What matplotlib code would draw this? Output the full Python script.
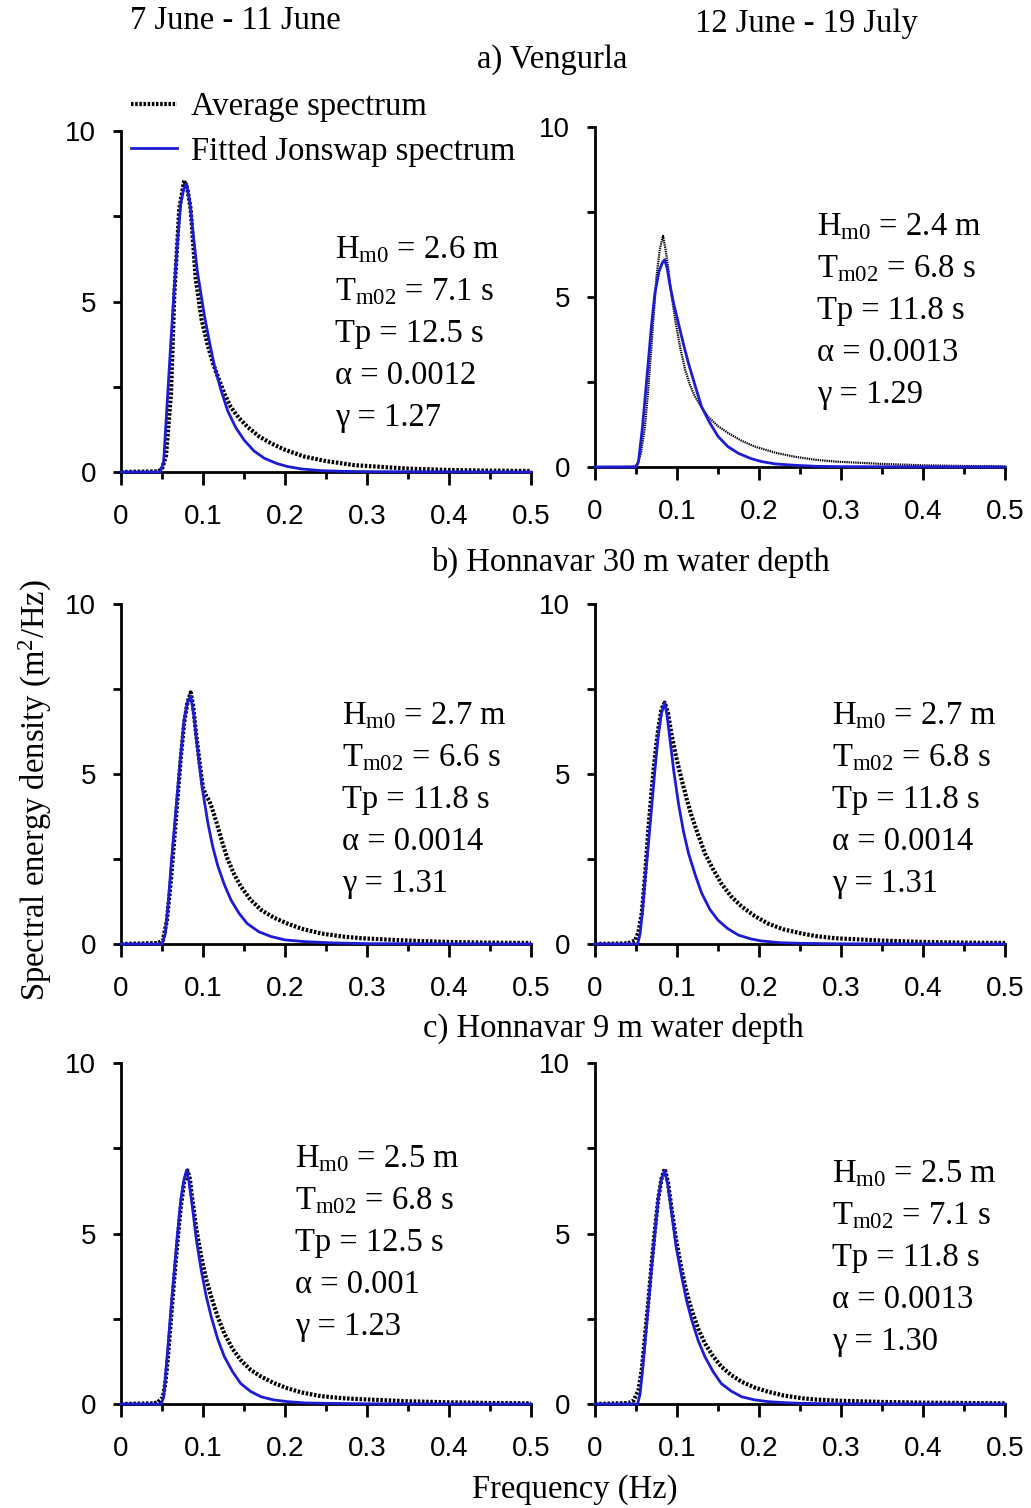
import matplotlib
matplotlib.use("Agg")
import matplotlib.pyplot as plt

plt.rcParams["font.family"] = "Liberation Serif"
plt.rcParams["mathtext.fontset"] = "custom"
plt.rcParams["mathtext.rm"] = "Liberation Serif"
plt.rcParams["mathtext.it"] = "Liberation Serif:italic"

W, H = 1031, 1508

# ---- data (f in Hz, S in m2/Hz) ----
# a) Vengurla, 7 June - 11 June
f_avg_a1 = [0, 0.045, 0.05, 0.055, 0.061, 0.065, 0.071, 0.077, 0.081, 0.085, 0.091, 0.098, 0.106, 0.112, 0.118, 0.126, 0.134, 0.144, 0.154, 0.168, 0.183, 0.2, 0.224, 0.25, 0.285, 0.35, 0.4, 0.45, 0.5]
s_avg_a1 = [0, 0.02, 0.08, 0.5, 2.3, 5.2, 7.7, 8.55, 8.3, 7.7, 5.7, 4.5, 3.7, 3.2, 2.8, 2.3, 1.9, 1.58, 1.33, 1.05, 0.84, 0.65, 0.45, 0.32, 0.2, 0.1, 0.06, 0.04, 0.03]
f_fit_a1 = [0, 0.048, 0.052, 0.057, 0.061, 0.065, 0.069, 0.073, 0.077, 0.080, 0.084, 0.087, 0.093, 0.102, 0.108, 0.114, 0.122, 0.130, 0.140, 0.150, 0.162, 0.175, 0.19, 0.203, 0.22, 0.244, 0.27, 0.3, 0.5]
s_fit_a1 = [0, 0, 0.3, 2.3, 3.9, 5.4, 6.8, 7.9, 8.35, 8.45, 7.9, 7.2, 5.9, 4.55, 3.8, 3.1, 2.4, 1.8, 1.3, 0.94, 0.62, 0.4, 0.25, 0.16, 0.09, 0.04, 0.02, 0.01, 0]

# a) Vengurla, 12 June - 19 July
f_avg_a2 = [0, 0.045, 0.051, 0.056, 0.061, 0.065, 0.069, 0.075, 0.079, 0.083, 0.086, 0.089, 0.093, 0.098, 0.104, 0.110, 0.116, 0.122, 0.130, 0.138, 0.150, 0.163, 0.178, 0.195, 0.22, 0.244, 0.27, 0.293, 0.35, 0.4, 0.45, 0.5]
s_avg_a2 = [0, 0.01, 0.05, 0.4, 1.2, 2.3, 3.6, 5.6, 6.4, 6.8, 6.4, 5.9, 5.1, 4.3, 3.5, 2.85, 2.4, 2.07, 1.75, 1.48, 1.2, 0.99, 0.78, 0.6, 0.42, 0.3, 0.21, 0.16, 0.09, 0.05, 0.03, 0.02]
f_fit_a2 = [0, 0.05, 0.053, 0.058, 0.065, 0.069, 0.073, 0.078, 0.082, 0.085, 0.088, 0.091, 0.096, 0.102, 0.108, 0.114, 0.122, 0.130, 0.140, 0.150, 0.162, 0.175, 0.19, 0.203, 0.22, 0.244, 0.27, 0.3, 0.5]
s_fit_a2 = [0, 0, 0.15, 1.2, 3.1, 4.2, 5.1, 5.75, 6.0, 6.1, 5.85, 5.4, 4.8, 4.2, 3.6, 3.05, 2.4, 1.77, 1.3, 0.9, 0.6, 0.4, 0.25, 0.16, 0.09, 0.05, 0.02, 0.01, 0]

# b) Honnavar 30 m, 7 June - 11 June
f_avg_b1 = [0, 0.045, 0.051, 0.056, 0.061, 0.065, 0.069, 0.073, 0.077, 0.081, 0.085, 0.088, 0.091, 0.096, 0.100, 0.104, 0.108, 0.113, 0.118, 0.124, 0.130, 0.138, 0.146, 0.158, 0.171, 0.186, 0.203, 0.22, 0.244, 0.27, 0.293, 0.35, 0.4, 0.45, 0.5]
s_avg_b1 = [0, 0.03, 0.1, 0.7, 1.9, 3.1, 4.3, 5.5, 6.5, 7.1, 7.4, 7.0, 6.3, 5.3, 4.6, 4.35, 4.2, 3.85, 3.45, 2.95, 2.5, 2.05, 1.7, 1.3, 1.0, 0.78, 0.6, 0.45, 0.31, 0.22, 0.17, 0.1, 0.06, 0.04, 0.03]
f_fit_b1 = [0, 0.05, 0.054, 0.058, 0.061, 0.065, 0.069, 0.073, 0.077, 0.081, 0.085, 0.089, 0.093, 0.099, 0.106, 0.112, 0.118, 0.126, 0.134, 0.144, 0.154, 0.168, 0.183, 0.2, 0.224, 0.26, 0.3, 0.5]
s_fit_b1 = [0, 0, 0.3, 1.3, 2.3, 3.4, 4.5, 5.6, 6.6, 7.1, 7.3, 6.7, 5.8, 4.6, 3.55, 2.85, 2.3, 1.75, 1.3, 0.9, 0.6, 0.36, 0.22, 0.12, 0.07, 0.03, 0.01, 0]

# b) Honnavar 30 m, 12 June - 19 July
f_avg_b2 = [0, 0.04, 0.049, 0.053, 0.057, 0.061, 0.065, 0.069, 0.073, 0.077, 0.081, 0.085, 0.089, 0.093, 0.099, 0.106, 0.112, 0.118, 0.126, 0.134, 0.144, 0.154, 0.166, 0.179, 0.195, 0.211, 0.23, 0.252, 0.27, 0.293, 0.35, 0.4, 0.45, 0.5]
s_avg_b2 = [0, 0.02, 0.1, 0.35, 0.9, 2.0, 3.35, 4.5, 5.5, 6.3, 6.9, 7.1, 6.8, 6.2, 5.5, 4.8, 4.25, 3.75, 3.2, 2.67, 2.2, 1.78, 1.4, 1.1, 0.82, 0.6, 0.43, 0.31, 0.23, 0.17, 0.1, 0.06, 0.04, 0.03]
f_fit_b2 = [0, 0.052, 0.055, 0.058, 0.061, 0.065, 0.069, 0.073, 0.077, 0.081, 0.085, 0.088, 0.091, 0.096, 0.102, 0.108, 0.114, 0.122, 0.130, 0.140, 0.150, 0.162, 0.175, 0.19, 0.203, 0.225, 0.25, 0.3, 0.5]
s_fit_b2 = [0, 0, 0.3, 1.0, 1.9, 2.9, 4.0, 5.1, 6.1, 6.8, 7.1, 6.7, 6.1, 5.1, 4.1, 3.3, 2.67, 2.05, 1.5, 1.02, 0.7, 0.45, 0.26, 0.15, 0.09, 0.04, 0.02, 0.005, 0]

# c) Honnavar 9 m, 7 June - 11 June
f_avg_c1 = [0, 0.04, 0.045, 0.051, 0.054, 0.057, 0.061, 0.065, 0.069, 0.073, 0.077, 0.081, 0.084, 0.087, 0.092, 0.098, 0.104, 0.110, 0.118, 0.126, 0.136, 0.146, 0.158, 0.171, 0.186, 0.203, 0.22, 0.244, 0.27, 0.293, 0.35, 0.4, 0.45, 0.5]
s_avg_c1 = [0, 0.02, 0.05, 0.2, 0.6, 1.3, 2.5, 3.7, 4.8, 5.8, 6.5, 6.85, 6.6, 6.0, 5.1, 4.3, 3.65, 3.15, 2.55, 2.07, 1.62, 1.29, 1.0, 0.8, 0.62, 0.46, 0.34, 0.23, 0.17, 0.14, 0.08, 0.05, 0.03, 0.02]
f_fit_c1 = [0, 0.049, 0.052, 0.057, 0.061, 0.065, 0.069, 0.073, 0.077, 0.080, 0.083, 0.087, 0.092, 0.098, 0.104, 0.110, 0.118, 0.126, 0.136, 0.146, 0.158, 0.171, 0.186, 0.203, 0.225, 0.25, 0.3, 0.5]
s_fit_c1 = [0, 0, 0.2, 1.6, 2.8, 3.9, 5.0, 6.0, 6.6, 6.85, 6.5, 5.8, 4.8, 3.9, 3.15, 2.56, 1.9, 1.39, 0.95, 0.6, 0.37, 0.21, 0.12, 0.07, 0.03, 0.02, 0.005, 0]

# c) Honnavar 9 m, 12 June - 19 July
f_avg_c2 = [0, 0.041, 0.047, 0.053, 0.057, 0.061, 0.065, 0.069, 0.073, 0.077, 0.081, 0.085, 0.089, 0.093, 0.099, 0.106, 0.112, 0.118, 0.126, 0.134, 0.144, 0.154, 0.166, 0.179, 0.195, 0.211, 0.23, 0.252, 0.27, 0.293, 0.35, 0.4, 0.45, 0.5]
s_avg_c2 = [0, 0.03, 0.1, 0.4, 1.0, 2.0, 3.0, 4.1, 5.1, 6.0, 6.6, 6.9, 6.5, 5.8, 4.8, 3.9, 3.25, 2.75, 2.2, 1.78, 1.4, 1.1, 0.85, 0.65, 0.48, 0.36, 0.25, 0.17, 0.13, 0.1, 0.06, 0.04, 0.03, 0.02]
f_fit_c2 = [0, 0.052, 0.055, 0.058, 0.061, 0.065, 0.069, 0.073, 0.077, 0.081, 0.085, 0.089, 0.093, 0.099, 0.106, 0.112, 0.118, 0.126, 0.134, 0.144, 0.154, 0.166, 0.179, 0.195, 0.211, 0.23, 0.25, 0.3, 0.5]
s_fit_c2 = [0, 0, 0.3, 1.0, 1.8, 2.9, 4.0, 5.0, 6.0, 6.6, 6.85, 6.4, 5.7, 4.6, 3.7, 3.0, 2.46, 1.85, 1.39, 0.95, 0.6, 0.38, 0.21, 0.12, 0.07, 0.04, 0.02, 0.005, 0]

params_a1 = ["2.6", "7.1", "12.5", "0.0012", "1.27"]
params_a2 = ["2.4", "6.8", "11.8", "0.0013", "1.29"]
params_b1 = ["2.7", "6.6", "11.8", "0.0014", "1.31"]
params_b2 = ["2.7", "6.8", "11.8", "0.0014", "1.31"]
params_c1 = ["2.5", "6.8", "12.5", "0.001", "1.23"]
params_c2 = ["2.5", "7.1", "11.8", "0.0013", "1.30"]

x_ticks = [0, 0.1, 0.2, 0.3, 0.4, 0.5]
x_labels = ["0", "0.1", "0.2", "0.3", "0.4", "0.5"]
x_minor = [0.05, 0.15, 0.25, 0.35, 0.45]
y_ticks = [0, 5, 10]
y_minor = [2.5, 7.5]

col_titles = ["7 June - 11 June", "12 June - 19 July"]
row_titles = ["a) Vengurla", "b) Honnavar 30 m water depth", "c) Honnavar 9 m water depth"]

BLUE = "#1c1cd4"
FS = 23.5


def fx(px):
    return px / W


def fy(py):
    return 1 - py / H


fig = plt.figure(figsize=(W / 100, H / 100), dpi=100)

# panel boxes in pixels: (x0, y_of_zero, x1, y_of_ten)
boxes = [
    (121, 472, 531, 131), (595, 467, 1005, 127),
    (121, 944, 531, 604), (595, 944, 1005, 604),
    (121, 1404, 531, 1063), (595, 1404, 1005, 1063),
]
curves = [
    (f_avg_a1, s_avg_a1, f_fit_a1, s_fit_a1, params_a1, 3.0),
    (f_avg_a2, s_avg_a2, f_fit_a2, s_fit_a2, params_a2, 1.6),
    (f_avg_b1, s_avg_b1, f_fit_b1, s_fit_b1, params_b1, 3.0),
    (f_avg_b2, s_avg_b2, f_fit_b2, s_fit_b2, params_b2, 3.0),
    (f_avg_c1, s_avg_c1, f_fit_c1, s_fit_c1, params_c1, 3.0),
    (f_avg_c2, s_avg_c2, f_fit_c2, s_fit_c2, params_c2, 3.0),
]
# text block: left x and center y of the last (gamma) line, in pixels
text_pos = [(335, 418), (817, 395), (342, 884), (832, 884), (295, 1327), (832, 1342)]

for i, (box, cv, tp) in enumerate(zip(boxes, curves, text_pos)):
    x0, yb, x1, yt = box
    ax = fig.add_axes([fx(x0), fy(yb), (x1 - x0) / W, (yb - yt) / H])
    fa, sa, ff, sf, prm, lw_avg = cv
    ax.plot(fa, sa, color="black", lw=lw_avg, ls=(0, (0.6, 0.4)), clip_on=False, zorder=3)
    ax.plot(ff, sf, color=BLUE, lw=2.0, clip_on=False, zorder=4)
    ax.set_xlim(0, 0.5)
    ax.set_ylim(0, 10)
    for s in ["top", "right"]:
        ax.spines[s].set_visible(False)
    for s in ["left", "bottom"]:
        ax.spines[s].set_linewidth(2)
    ax.set_xticks(x_ticks)
    ax.set_xticks(x_minor, minor=True)
    ax.set_xticklabels(x_labels, family="Liberation Sans", fontsize=20)
    ax.set_yticks(y_ticks)
    ax.set_yticks(y_minor, minor=True)
    ax.set_yticklabels([str(v) for v in y_ticks], family="Liberation Sans", fontsize=20)
    ax.tick_params(axis="x", which="major", direction="out", length=9, width=2, pad=14)
    ax.tick_params(axis="x", which="minor", direction="out", length=5, width=2)
    ax.tick_params(axis="y", which="both", direction="out", length=6, width=2, pad=12)

    lines = [
        r"H$_{\mathrm{m0}}$ = " + prm[0] + " m",
        r"T$_{\mathrm{m02}}$ = " + prm[1] + " s",
        "Tp = " + prm[2] + " s",
        "α = " + prm[3],
        "γ = " + prm[4],
    ]
    tx, ty = tp
    for k, t in enumerate(lines):
        fig.text(fx(tx), fy(ty - (4 - k) * 42), t, fontsize=FS, ha="left", va="center")

fig.text(fx(235), fy(21), col_titles[0], fontsize=FS, ha="center", va="center")
fig.text(fx(806), fy(24), col_titles[1], fontsize=FS, ha="center", va="center")
fig.text(fx(552), fy(60), row_titles[0], fontsize=FS, ha="center", va="center")
fig.text(fx(630), fy(562), row_titles[1], fontsize=FS, ha="center", va="center")
fig.text(fx(613), fy(1028), row_titles[2], fontsize=FS, ha="center", va="center")
fig.text(fx(575), fy(1490), "Frequency (Hz)", fontsize=FS, ha="center", va="center")
fig.text(fx(35), fy(790), "Spectral energy density (m$^2$/Hz)", fontsize=FS,
         ha="center", va="center", rotation=90)

h_avg = plt.Line2D([0], [0], color="black", lw=3.0, ls=(0, (0.6, 0.4)))
h_fit = plt.Line2D([0], [0], color=BLUE, lw=2.0)
fig.legend([h_avg, h_fit], ["Average spectrum", "Fitted Jonswap spectrum"],
           loc="upper left", bbox_to_anchor=(fx(131), fy(92)), frameon=False,
           fontsize=FS, handlelength=1.4, handletextpad=0.45, labelspacing=0.4,
           borderpad=0, borderaxespad=0)

fig.savefig("out.png", dpi=100)
